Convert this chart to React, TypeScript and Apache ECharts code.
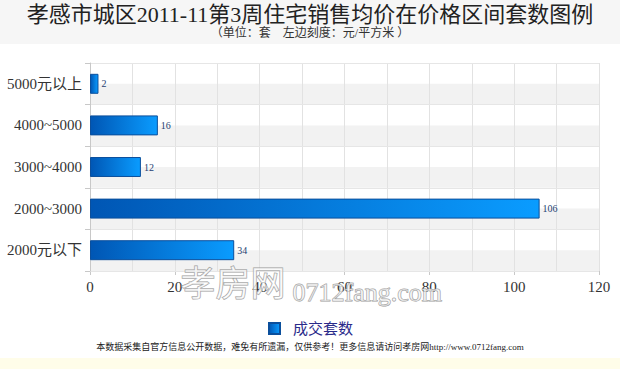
import React, { useEffect, useRef } from "react";
import * as echarts from "echarts";

const categories = ["2000元以下", "2000~3000", "3000~4000", "4000~5000", "5000元以上"];
const seriesName = "成交套数";
const values = [34, 106, 12, 16, 2];
const titleText = "孝感市城区2011-11第3周住宅销售均价在价格区间套数图例";
const subtitleText = "（单位：套　左边刻度：元/平方米 ）";
const footerText = "本数据采集自官方信息公开数据，难免有所遗漏，仅供参考！更多信息请访问孝房网http://www.0712fang.com";
const halfBands = ["", "", "", "", "", "", "", "", "", ""];

const SERIF = '"Liberation Serif", "DejaVu Serif", "Noto Sans CJK SC", serif';

export default function App() {
  const ref = useRef<HTMLDivElement>(null);
  useEffect(() => {
    if (!ref.current) return;
    const chart = echarts.init(ref.current, undefined, { renderer: "svg" });
    chart.setOption({
      animation: false,
      backgroundColor: "#ffffff",
      graphic: [
        { type: "rect", left: 0, top: 0, shape: { width: 620, height: 44 }, style: { fill: "#f6f6f6" }, z: -10 },
        { type: "rect", left: 0, top: 358, shape: { width: 620, height: 11 }, style: { fill: "#fffde9" }, z: -10 },
        {
          type: "text", left: "center", top: 3,
          style: { text: titleText, fontSize: 22, fontFamily: SERIF, fill: "#222" },
        },
        {
          type: "text", left: "center", top: 27,
          style: { text: subtitleText, fontSize: 12, fontFamily: SERIF, fill: "#333" },
        },
        {
          type: "text", left: 180, top: 262, z: 100,
          style: { text: "孝房网", fontSize: 35, fontFamily: '"Noto Sans CJK SC", sans-serif', fill: "rgba(255,255,255,0.6)", stroke: "#9a9a9a", lineWidth: 1 },
        },
        {
          type: "text", left: 292, top: 279, z: 100,
          style: { text: "0712fang.com", fontSize: 26, fontFamily: SERIF, fill: "rgba(255,255,255,0.6)", stroke: "#9a9a9a", lineWidth: 1 },
        },
        {
          type: "text", left: "center", top: 342,
          style: { text: footerText, fontSize: 9, fontFamily: SERIF, fill: "#222" },
        },
      ],
      legend: {
        data: [seriesName],
        left: 263,
        top: 316,
        icon: "rect",
        itemWidth: 11,
        itemHeight: 11,
        itemGap: 10,
        textStyle: { fontSize: 15, color: "#2a2a8a", fontFamily: SERIF, padding: [0, 0, 0, 8] },
      },
      grid: { left: 90, right: 21, top: 63, bottom: 98 },
      xAxis: {
        type: "value",
        min: 0,
        max: 120,
        interval: 20,
        axisLine: { show: true, lineStyle: { color: "#c8c8c8" } },
        axisTick: { show: true, length: 4, lineStyle: { color: "#c8c8c8" } },
        axisLabel: { fontSize: 15, color: "#333", fontFamily: SERIF, margin: 8 },
        splitLine: { show: true, lineStyle: { color: "#e2e2e2" } },
        minorTick: { show: false, splitNumber: 2 },
        minorSplitLine: { show: true, lineStyle: { color: "#e2e2e2" } },
      },
      yAxis: [
        {
          type: "category",
          data: categories,
          axisLine: { show: true, lineStyle: { color: "#c8c8c8" } },
          axisTick: { show: true, length: 5, lineStyle: { color: "#c8c8c8" } },
          axisLabel: { fontSize: 15, color: "#333", fontFamily: SERIF, margin: 8 },
          splitLine: { show: true, lineStyle: { color: "#e6e6e6" } },
          z: 3,
        },
        {
          type: "category",
          data: halfBands,
          position: "right",
          axisLine: { show: false },
          axisTick: { show: false },
          axisLabel: { show: false },
          splitLine: { show: false },
          splitArea: { show: true, areaStyle: { color: ["#f2f2f2", "rgba(255,255,255,0)"] } },
          z: 0,
        },
      ],
      series: [
        {
          name: seriesName,
          type: "bar",
          yAxisIndex: 0,
          data: values,
          barWidth: "48%",
          itemStyle: {
            color: new echarts.graphic.LinearGradient(0, 0, 1, 0, [
              { offset: 0, color: "#0056b4" },
              { offset: 1, color: "#0a9cff" },
            ]),
            borderColor: "#0b4f9c",
            borderWidth: 1,
          },
          label: {
            show: true,
            position: "right",
            distance: 3,
            fontSize: 10,
            color: "#1e3f72",
            fontFamily: SERIF,
          },
          z: 5,
        },
      ],
    });
    return () => chart.dispose();
  }, []);
  return (
    <div
      ref={ref}
      style={{ position: "fixed", left: 0, top: 0, width: 620, height: 369 }}
    />
  );
}
